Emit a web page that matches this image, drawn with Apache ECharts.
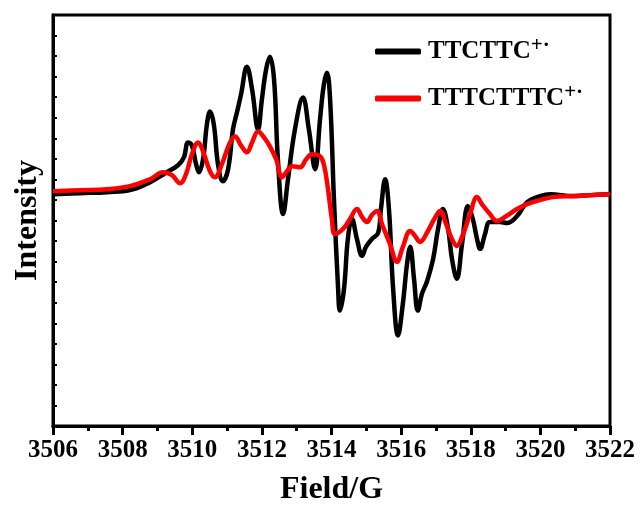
<!DOCTYPE html>
<html>
<head>
<meta charset="utf-8">
<script src="https://cdn.jsdelivr.net/npm/echarts@6/dist/echarts.min.js"></script>
<style>
  html, body { margin: 0; padding: 0; background: #fff; }
  #chart { width: 640px; height: 511px; }
</style>
</head>
<body>
<div id="chart"></div>
<script>
// EPR spectra: magnetic field (G) and first-derivative intensity (arb. units)
const fieldTTCTTC = [
  3506.00, 3506.78, 3507.55, 3508.21, 3508.79, 3509.22, 3509.59, 3509.76, 3509.88, 3509.99,
  3510.11, 3510.19, 3510.31, 3510.42, 3510.51, 3510.62, 3510.74, 3510.88, 3511.03, 3511.17,
  3511.29, 3511.40, 3511.57, 3511.72, 3511.89, 3512.00, 3512.12, 3512.23, 3512.35, 3512.46,
  3512.61, 3512.75, 3512.95, 3513.18, 3513.35, 3513.53, 3513.67, 3513.78, 3513.87, 3513.96,
  3514.07, 3514.19, 3514.24, 3514.36, 3514.47, 3514.59, 3514.73, 3514.88, 3514.99, 3515.16,
  3515.34, 3515.42, 3515.54, 3515.65, 3515.77, 3515.91, 3516.05, 3516.17, 3516.26, 3516.37,
  3516.48, 3516.60, 3516.74, 3516.92, 3517.06, 3517.20, 3517.35, 3517.46, 3517.60, 3517.75,
  3517.92, 3518.06, 3518.18, 3518.27, 3518.41, 3518.55, 3518.84, 3519.04, 3519.33, 3519.62,
  3519.99, 3520.28, 3520.94, 3521.43, 3522.00
];
const intensityTTCTTC = [
  26.5, 27.5, 28.5, 30.5, 38.5, 47.5, 55.5, 63.5, 78.5, 75.5,
  56.5, 48.5, 61.5, 96.5, 109.5, 96.5, 56.5, 39.5, 51.5, 91.5,
  109.5, 126.5, 154.5, 131.5, 91.5, 121.5, 151.5, 164.5, 141.5, 61.5,
  6.5, 41.5, 91.5, 123.5, 91.5, 51.5, 101.5, 136.5, 148.5, 121.5,
  21.5, -68.5, -90.5, -68.5, -18.5, 1.5, -18.5, -35.5, -26.5, -18.5,
  -12.5, 11.5, 41.5, 11.5, -68.5, -115.5, -83.5, -43.5, -26.5, -58.5,
  -90.5, -73.5, -61.5, -38.5, -8.5, 11.5, -8.5, -38.5, -58.5, -23.5,
  14.5, 1.5, -18.5, -28.5, -13.5, -1.5, -1.5, -2.5, 4.5, 18.5,
  24.5, 26.5, 24.5, 25.5, 26.5
];

const fieldTTTCTTTC = [
  3506.00, 3506.78, 3507.55, 3508.21, 3508.79, 3509.16, 3509.42, 3509.65, 3509.82, 3509.99,
  3510.17, 3510.31, 3510.51, 3510.65, 3510.85, 3511.06, 3511.23, 3511.40, 3511.57, 3511.72,
  3511.89, 3512.06, 3512.23, 3512.41, 3512.58, 3512.72, 3512.87, 3513.10, 3513.27, 3513.44,
  3513.67, 3513.78, 3513.90, 3514.01, 3514.10, 3514.33, 3514.53, 3514.73, 3514.88, 3515.02,
  3515.16, 3515.31, 3515.45, 3515.68, 3515.88, 3516.05, 3516.26, 3516.40, 3516.54, 3516.77,
  3516.97, 3517.12, 3517.29, 3517.46, 3517.60, 3517.75, 3517.98, 3518.18, 3518.32, 3518.55,
  3518.75, 3518.98, 3519.33, 3519.62, 3519.99, 3520.36, 3520.99, 3522.00
];
const intensityTTTCTTTC = [
  29.5, 30.5, 31.5, 34.5, 41.5, 48.5, 45.5, 37.5, 46.5, 66.5,
  78.5, 69.5, 49.5, 43.5, 56.5, 76.5, 84.5, 75.5, 68.5, 78.5,
  89.5, 83.5, 74.5, 61.5, 43.5, 49.5, 54.5, 53.5, 61.5, 66.5,
  64.5, 56.5, 31.5, 1.5, -13.5, -8.5, 1.5, 11.5, 3.5, -1.5,
  5.5, 9.5, -3.5, -23.5, -41.5, -26.5, -10.5, -15.5, -21.5, -10.5,
  2.5, 9.5, -3.5, -18.5, -25.5, -16.5, 6.5, 23.5, 16.5, 6.5,
  -0.5, 3.5, 11.5, 16.5, 20.5, 23.5, 24.5, 26.5
];

const fieldTicks = [3506, 3508, 3510, 3512, 3514, 3516, 3518, 3520, 3522];
const seriesNames = ['TTCTTC', 'TTTCTTTC'];
const seriesColors = ['#000000', '#ff0000'];

const pair = (xs, ys) => xs.map((x, i) => [x, ys[i]]);
const serif = '"Liberation Serif", "Times New Roman", serif';

const chart = echarts.init(document.getElementById('chart'), null, { renderer: 'canvas' });

chart.setOption({
  animation: false,
  backgroundColor: '#ffffff',
  grid: {
    left: 53, right: 30, top: 15, bottom: 82,
    show: true, borderColor: '#000', borderWidth: 3, backgroundColor: 'transparent'
  },
  legend: {
    orient: 'vertical',
    left: 370, top: 30,
    itemWidth: 46, itemHeight: 6, itemGap: 18,
    icon: 'roundRect',
    data: seriesNames,
    formatter: name => '{a|' + name + '}{s|+·}',
    textStyle: {
      rich: {
        a: { fontFamily: serif, fontWeight: 'bold', fontSize: 25, color: '#000', padding: [0, 0, 0, 2] },
        s: { fontFamily: serif, fontWeight: 'bold', fontSize: 21, color: '#000', verticalAlign: 'top', padding: [0, 0, 12, 0] }
      }
    }
  },
  xAxis: {
    type: 'value',
    min: fieldTicks[0], max: fieldTicks[fieldTicks.length - 1], interval: 2,
    name: 'Field/G', nameLocation: 'middle', nameGap: 64,
    nameTextStyle: { fontFamily: serif, fontWeight: 'bold', fontSize: 32, color: '#000', verticalAlign: 'middle' },
    axisLine: { show: true, onZero: false, lineStyle: { color: '#000', width: 3 } },
    axisTick: { show: true, inside: false, length: 9, lineStyle: { color: '#000', width: 3 } },
    minorTick: { show: true, splitNumber: 2, length: 5, lineStyle: { color: '#000', width: 3 } },
    axisLabel: {
      margin: 12, fontFamily: serif, fontWeight: 'bold', fontSize: 25, color: '#000',
      formatter: v => String(v)
    },
    splitLine: { show: false }
  },
  yAxis: {
    type: 'value',
    min: -206.5, max: 206.5, interval: 20.65,
    name: 'Intensity', nameLocation: 'middle', nameGap: 25, nameRotate: 90,
    nameTextStyle: { fontFamily: serif, fontWeight: 'bold', fontSize: 32, color: '#000', verticalAlign: 'middle' },
    axisLine: { show: true, onZero: false, lineStyle: { color: '#000', width: 3 } },
    axisTick: { show: true, inside: true, length: 4, lineStyle: { color: '#000', width: 2 } },
    axisLabel: { show: false },
    splitLine: { show: false }
  },
  series: [
    {
      name: seriesNames[0], type: 'line', data: pair(fieldTTCTTC, intensityTTCTTC),
      smooth: 0.4, showSymbol: false, symbol: 'none',
      lineStyle: { color: seriesColors[0], width: 4.5 }, itemStyle: { color: seriesColors[0] }, z: 2
    },
    {
      name: seriesNames[1], type: 'line', data: pair(fieldTTTCTTTC, intensityTTTCTTTC),
      smooth: 0.4, showSymbol: false, symbol: 'none',
      lineStyle: { color: seriesColors[1], width: 4.5 }, itemStyle: { color: seriesColors[1] }, z: 3
    }
  ]
});
</script>
</body>
</html>
